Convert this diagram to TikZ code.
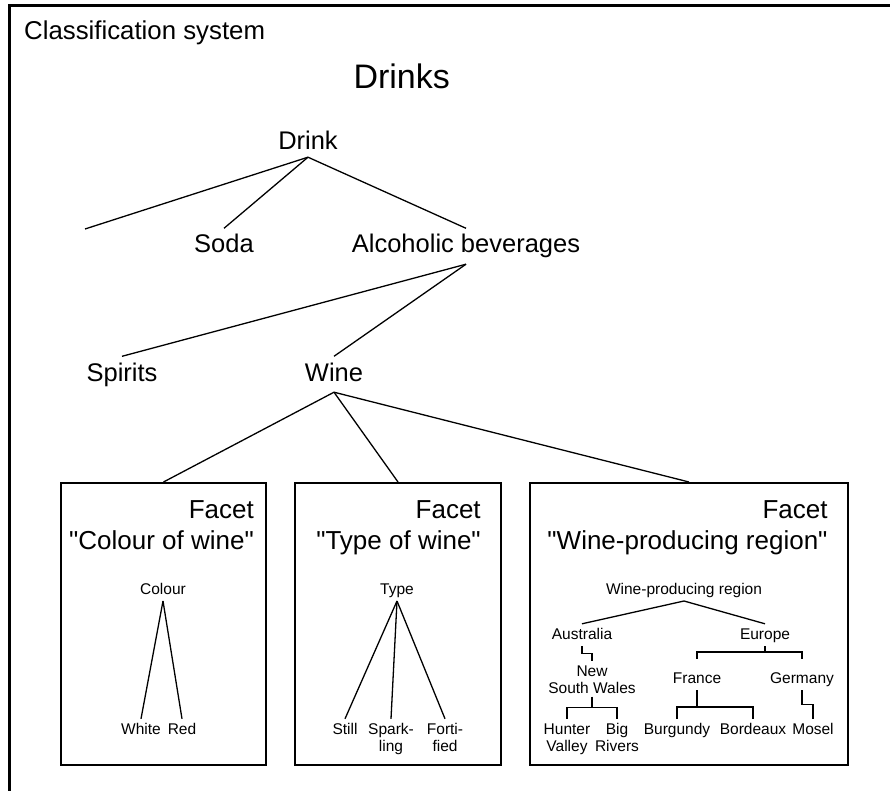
\documentclass[tikz,border=0pt]{standalone}
\usepackage{fontspec}
\setmainfont{Liberation Sans}[Ligatures=TeXOff]
\usetikzlibrary{calc}
\begin{document}
\begin{tikzpicture}[x=1pt,y=-1pt,
  frameline/.style={line width=2.5pt},
  link/.style={line width=1.3pt},
  facetbox/.style={draw, line width=2pt, rectangle, inner sep=0pt, minimum height=282pt},
  heading/.style={font=\fontsize{25.8}{31}\selectfont, inner sep=0pt, anchor=base west},
  bigtitle/.style={font=\fontsize{34}{40}\selectfont, inner sep=0pt, anchor=base},
  topic/.style={font=\fontsize{25.5}{31}\selectfont, anchor=base, inner xsep=0pt,
                inner ysep=5.5pt, text height=19pt, text depth=5.5pt},
  facetname/.style={font=\fontsize{26}{31}\selectfont, inner sep=0pt},
  leaf/.style={font=\fontsize{15.5}{17}\selectfont, anchor=base, inner xsep=0pt,
               inner ysep=3.5pt, text height=11.5pt, text depth=3.3pt},
  leaftwo/.style={leaf, text depth=17pt},
]
\useasboundingbox (0,0) rectangle (890,791);

% outer frame (top and left edges)
\draw[frameline] (9.5,791) -- (9.5,5.5) -- (890,5.5);

% headings
\node[heading] (system) at (24,40) {Classification system};
\node[bigtitle] (drinks) at (401.7,88.3) {Drinks};

% main hierarchy
\node[topic, inner ysep=1.5pt] (drink) at (308,150) {Drink};
\coordinate (other) at (85,229);
\node[topic] (soda) at (224,253) {Soda};
\node[topic] (alc) at (466,253) {Alcoholic beverages};
\node[topic] (spirits) at (122,381) {Spirits};
\node[topic] (wine) at (334,381) {Wine};

\draw[link] (drink.south) -- (other);
\draw[link] (drink.south) -- (soda.north);
\draw[link] (drink.south) -- (alc.north);
\draw[link] (alc.south) -- (spirits.north);
\draw[link] (alc.south) -- (wine.north);

% facet boxes
\node[facetbox, minimum width=205pt] (colourbox) at (163.5,624) {};
\node[facetbox, minimum width=206pt] (typebox) at (398,624) {};
\node[facetbox, minimum width=318pt] (regionbox) at (689,624) {};

\draw[link] (wine.south) -- (colourbox.north);
\draw[link] (wine.south) -- (typebox.north);
\draw[link] (wine.south) -- (regionbox.north);

% facet titles
\node[facetname, anchor=base] (colourname) at (161.5,549) {"Colour of wine"};
\node[facetname, anchor=base east] (colourfacet) at ([yshift=31pt]colourname.base east) {Facet};
\node[facetname, anchor=base] (typename) at (398.5,549) {"Type of wine"};
\node[facetname, anchor=base east] (typefacet) at ([yshift=31pt]typename.base east) {Facet};
\node[facetname, anchor=base] (regionname) at (687.5,549) {"Wine-producing region"};
\node[facetname, anchor=base east] (regionfacet) at ([yshift=31pt]regionname.base east) {Facet};

% facet: colour
\node[leaf] (colour) at (163,594) {Colour};
\node[leaf] (white) at (141,734) {White};
\node[leaf] (red) at (182,734) {Red};
\draw[link] (colour.south) -- (white.north);
\draw[link] (colour.south) -- (red.north);

% facet: type
\node[leaf] (type) at (397,594) {Type};
\node[leaf] (still) at (345,734) {Still};
\node[leaftwo] (sparkling) at (391,734) {\begin{tabular}[t]{@{}c@{}}Spark-\\ling\end{tabular}};
\node[leaftwo] (fortified) at (445,734) {\begin{tabular}[t]{@{}c@{}}Forti-\\fied\end{tabular}};
\draw[link] (type.south) -- (still.north);
\draw[link] (type.south) -- (sparkling.north);
\draw[link] (type.south) -- (fortified.north);

% facet: wine-producing region
\node[leaf] (wpr) at (684,594) {Wine-producing region};
\node[leaf] (aus) at (582,639) {Australia};
\node[leaf] (eur) at (765,639) {Europe};
\node[leaftwo] (nsw) at (592,676) {\begin{tabular}[t]{@{}c@{}}New\\South Wales\end{tabular}};
\node[leaf] (fra) at (697,683) {France};
\node[leaf] (ger) at (802,683) {Germany};
\node[leaftwo] (hv) at (567,734) {\begin{tabular}[t]{@{}c@{}}Hunter\\Valley\end{tabular}};
\node[leaftwo] (br) at (617,734) {\begin{tabular}[t]{@{}c@{}}Big\\Rivers\end{tabular}};
\node[leaf] (bur) at (677,734) {Burgundy};
\node[leaf] (bor) at (753,734) {Bordeaux};
\node[leaf] (mos) at (813,734) {Mosel};

\draw[link] (wpr.south) -- (aus.north);
\draw[link] (wpr.south) -- (eur.north);
\draw[link] (aus.south) |- ($(aus.south)!.5!(nsw.north)$) -| (nsw.north);
\draw[link] (eur.south) -- ++(0,6) coordinate (eurj);
\draw[link] ([yshift=9pt]fra.north) |- (eurj) -| ([yshift=9pt]ger.north);
\draw[link] (nsw.south) -- ++(0,10.5) coordinate (nswj);
\draw[link] (hv.north) |- (nswj) -| (br.north);
\draw[link] (fra.south) -- ++(0,17) coordinate (fraj);
\draw[link] (bur.north) |- (fraj) -| (bor.north);
\draw[link] (ger.south) |- ($(ger.south)!.5!(mos.north)$) -| (mos.north);
\end{tikzpicture}
\end{document}
